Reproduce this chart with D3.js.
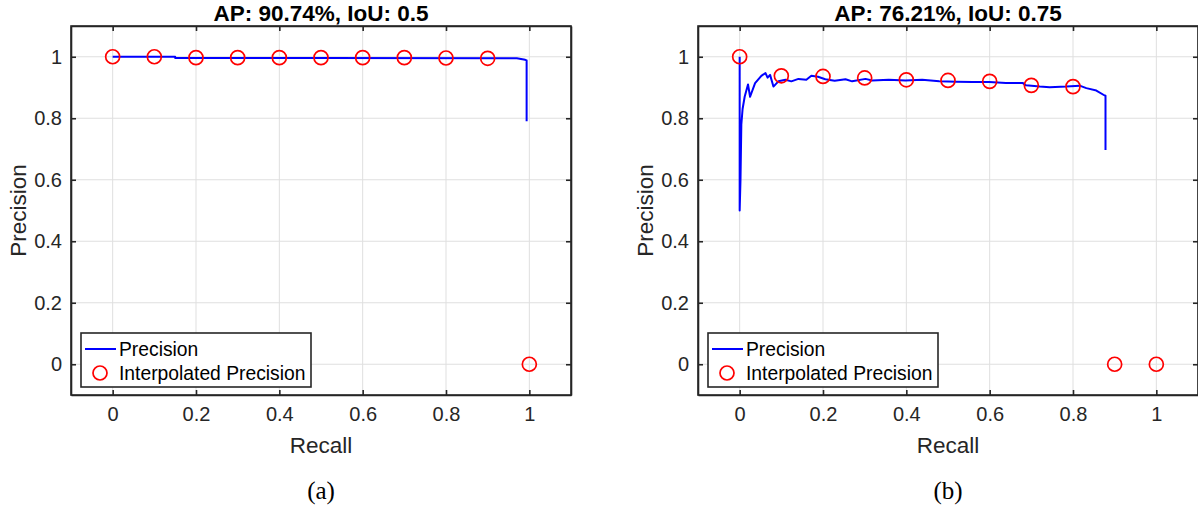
<!DOCTYPE html>
<html>
<head>
<meta charset="utf-8">
<script src="https://cdn.jsdelivr.net/npm/d3@7"></script>
<style>
  body { margin: 0; background: #fff; }
  svg { display: block; font-family: "Liberation Sans", Arial, sans-serif; }
</style>
</head>
<body>
<div id="chart"></div>
<script>
// panel (a): AP 90.74%, IoU 0.5
const titleA = "AP: 90.74%, IoU: 0.5"
const recallA = [0, 0.15, 0.15, 0.5, 0.97, 0.98, 0.99, 0.9935, 0.9935]
const precisionA = [1, 1, 0.996, 0.996, 0.995, 0.993, 0.99, 0.988, 0.79]
const interpRecall = [0, 0.1, 0.2, 0.3, 0.4, 0.5, 0.6, 0.7, 0.8, 0.9, 1]
const interpA = [1, 1, 0.997, 0.997, 0.997, 0.997, 0.997, 0.997, 0.996, 0.995, 0]

// panel (b): AP 76.21%, IoU 0.75
const titleB = "AP: 76.21%, IoU: 0.75"
const recallB = [0, 0, 0.002, 0.004, 0.007, 0.012, 0.02, 0.025, 0.037, 0.052, 0.062, 0.067, 0.073,
    0.081, 0.093, 0.11, 0.124, 0.141, 0.16, 0.172, 0.188, 0.2055, 0.228, 0.254, 0.27, 0.302,
    0.318, 0.358, 0.398, 0.438, 0.479, 0.519, 0.559, 0.599, 0.639, 0.679, 0.687, 0.72, 0.744,
    0.784, 0.816, 0.832, 0.856, 0.876, 0.878, 0.878]
const precisionB = [1, 0.5, 0.6, 0.78, 0.83, 0.87, 0.91, 0.87, 0.914, 0.938, 0.947, 0.932, 0.941,
    0.903, 0.92, 0.925, 0.92, 0.928, 0.925, 0.938, 0.935, 0.927, 0.922, 0.927, 0.92, 0.928,
    0.923, 0.925, 0.923, 0.925, 0.92, 0.919, 0.918, 0.918, 0.915, 0.915, 0.907, 0.903, 0.901,
    0.903, 0.906, 0.898, 0.89, 0.874, 0.873, 0.697]
const interpB = [1, 0.938, 0.936, 0.931, 0.925, 0.923, 0.92, 0.907, 0.903, 0, 0]

const ticks = [0, 0.2, 0.4, 0.6, 0.8, 1]
const tickLabels = ["0", "0.2", "0.4", "0.6", "0.8", "1"]
const captions = ["(a)", "(b)"]

const W = 1198, H = 507
const svg = d3.select("#chart").append("svg").attr("width", W).attr("height", H)

const axisColor = "#262626"

function drawPanel(left, title, rec, prec, interp, caption) {
    let w = 500, h = 369, top = 26
    let g = svg.append("g").attr("transform", "translate(" + left + "," + top + ")")

    let x = d3.scaleLinear().domain([-0.1, 1.1]).range([0, w])
    let y = d3.scaleLinear().domain([-0.1, 1.1]).range([h, 0])

    // grid
    g.append("g").selectAll("line.gx").data(ticks).join("line")
        .attr("x1", d => x(d)).attr("x2", d => x(d)).attr("y1", 0).attr("y2", h)
        .attr("stroke", "#dfdfdf").attr("stroke-width", 1)
    g.append("g").selectAll("line.gy").data(ticks).join("line")
        .attr("y1", d => y(d)).attr("y2", d => y(d)).attr("x1", 0).attr("x2", w)
        .attr("stroke", "#dfdfdf").attr("stroke-width", 1)

    // precision curve
    let line = d3.line().x((d, i) => x(rec[i])).y(d => y(d))
    g.append("path").datum(prec).attr("d", line)
        .attr("fill", "none").attr("stroke", "#0000ff").attr("stroke-width", 2)
        .attr("stroke-linejoin", "round")

    // interpolated points
    g.append("g").selectAll("circle").data(interp).join("circle")
        .attr("cx", (d, i) => x(interpRecall[i])).attr("cy", d => y(d)).attr("r", 7)
        .attr("fill", "none").attr("stroke", "#ff0000").attr("stroke-width", 1.7)

    // axes, ticks inside on all sides
    let fmt = d => tickLabels[ticks.indexOf(d)]
    let xb = g.append("g").attr("transform", "translate(0," + h + ")")
        .call(d3.axisBottom(x).tickValues(ticks).tickFormat(fmt).tickSizeInner(-5).tickSizeOuter(0).tickPadding(12))
    let xt = g.append("g")
        .call(d3.axisTop(x).tickValues(ticks).tickFormat("").tickSizeInner(-5).tickSizeOuter(0))
    let yl = g.append("g")
        .call(d3.axisLeft(y).tickValues(ticks).tickFormat(fmt).tickSizeInner(-5).tickSizeOuter(0).tickPadding(9))
    let yr = g.append("g").attr("transform", "translate(" + w + ",0)")
        .call(d3.axisRight(y).tickValues(ticks).tickFormat("").tickSizeInner(-5).tickSizeOuter(0))
    ;[xb, xt, yl, yr].forEach(a => {
        a.select(".domain").attr("stroke", axisColor).attr("stroke-width", 1.6)
        a.selectAll(".tick line").attr("stroke", axisColor).attr("stroke-width", 1.6)
        a.selectAll("text").attr("fill", axisColor).attr("font-size", 20)
            .attr("font-family", "Liberation Sans, Arial, sans-serif")
    })
    g.append("rect").attr("x", 0).attr("y", 0).attr("width", w).attr("height", h)
        .attr("fill", "none").attr("stroke", axisColor).attr("stroke-width", 1.6)

    // labels
    g.append("text").attr("x", w / 2).attr("y", h + 58).attr("text-anchor", "middle")
        .attr("font-size", 22.5).attr("fill", axisColor).text("Recall")
    g.append("text").attr("transform", "translate(" + (-45) + "," + (h / 2) + ") rotate(-90)")
        .attr("text-anchor", "middle").attr("font-size", 22.5).attr("fill", axisColor).text("Precision")
    g.append("text").attr("x", w / 2).attr("y", -5).attr("text-anchor", "middle")
        .attr("font-size", 22.5).attr("font-weight", "bold").attr("fill", "#000").text(title)
    g.append("text").attr("x", w / 2).attr("y", h + 104).attr("text-anchor", "middle")
        .attr("font-family", "Liberation Serif, Times New Roman, serif")
        .attr("font-size", 25).attr("fill", "#000").text(caption)

    // legend
    let lg = g.append("g").attr("transform", "translate(10,307)")
    lg.append("rect").attr("width", 230).attr("height", 54)
        .attr("fill", "#fff").attr("stroke", axisColor).attr("stroke-width", 1.6)
    lg.append("line").attr("x1", 4).attr("x2", 35).attr("y1", 16).attr("y2", 16)
        .attr("stroke", "#0000ff").attr("stroke-width", 2)
    lg.append("text").attr("x", 38).attr("y", 23).attr("font-size", 19.3).attr("fill", "#000").text("Precision")
    lg.append("circle").attr("cx", 19).attr("cy", 40).attr("r", 7)
        .attr("fill", "none").attr("stroke", "#ff0000").attr("stroke-width", 1.7)
    lg.append("text").attr("x", 38).attr("y", 47).attr("font-size", 19.3).attr("fill", "#000").text("Interpolated Precision")
}

drawPanel(71, titleA, recallA, precisionA, interpA, captions[0])
drawPanel(698, titleB, recallB, precisionB, interpB, captions[1])
</script>
</body>
</html>
